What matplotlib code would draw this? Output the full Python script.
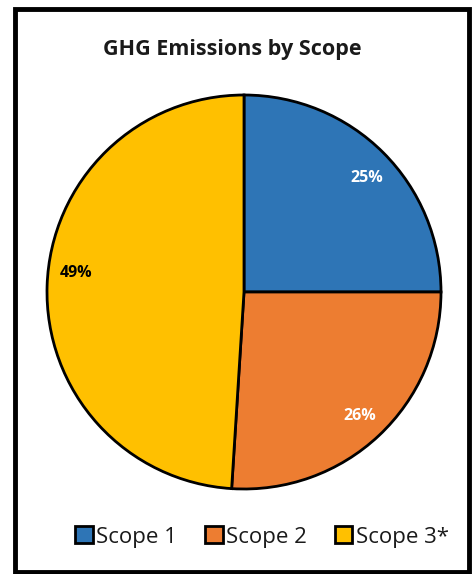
import matplotlib
matplotlib.use("Agg")
import matplotlib.pyplot as plt
from matplotlib.patches import Rectangle
import numpy as np

plt.rcParams['font.family'] = ['Open Sans', 'DejaVu Sans']

categories = ["Scope 1", "Scope 2", "Scope 3*"]
values = [25, 26, 49]
colors = ["#2E75B6", "#ED7D31", "#FFC000"]
label_colors = ["white", "white", "black"]
title = "GHG Emissions by Scope"

W, H = 472, 574
fig = plt.figure(figsize=(W/100, H/100), dpi=100)
fig.patch.set_facecolor("white")

cx, cy, r = 244, 292, 197
ax = fig.add_axes([(cx - r)/W, (H - cy - r)/H, 2*r/W, 2*r/H])
wedges, texts, autotexts = ax.pie(
    values, colors=colors, startangle=90, counterclock=False,
    autopct=lambda p: f"{p:.0f}%", pctdistance=0.86,
    wedgeprops=dict(edgecolor="black", linewidth=2),
    textprops=dict(fontsize=11.5, fontweight="bold"),
)
for t, c in zip(autotexts, label_colors):
    t.set_color(c)
# Place labels like the reference
ang0 = np.deg2rad(43)
autotexts[0].set_position((0.85*np.cos(ang0), 0.85*np.sin(ang0)))
ang = np.deg2rad(173.5)
autotexts[2].set_position((0.86*np.cos(ang), 0.86*np.sin(ang)))
ax.set_xlim(-1, 1)
ax.set_ylim(-1, 1)
ax.set_aspect("equal")

fig.text(232/W, 1 - 50/H, title, ha="center", va="center",
         fontsize=15.5, fontweight="bold", color="#1a1a1a")

leg = fig.legend(wedges, categories, loc="center", bbox_to_anchor=(262/W, 1 - 537/H),
                 ncol=3, frameon=False, fontsize=16, handlelength=0.8, handleheight=0.8,
                 handletextpad=0.15, columnspacing=1.25)
for txt in leg.get_texts():
    txt.set_color("#1a1a1a")

# figure frame
fig.patches.append(Rectangle((15/W, 2/H), 454/W, 563/H, transform=fig.transFigure,
                             fill=False, edgecolor="black", linewidth=3.5))

fig.savefig("out.png", dpi=100)
